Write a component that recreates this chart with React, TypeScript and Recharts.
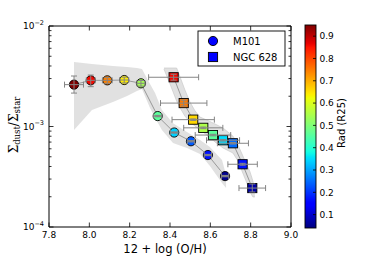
import React from 'react';
import { ComposedChart, XAxis, YAxis, Area, Line, Scatter, ErrorBar } from 'recharts';

// ---------- data ----------
const m101OH = [7.924, 8.007, 8.089, 8.173, 8.256, 8.339, 8.421, 8.504, 8.588, 8.673];
const m101Ratio = [2.61e-3, 2.88e-3, 2.88e-3, 2.9e-3, 2.69e-3, 1.27e-3, 8.71e-4, 7.13e-4, 5.2e-4, 3.21e-4];
const m101Rad = [0.95, 0.86, 0.745, 0.64, 0.54, 0.46, 0.34, 0.235, 0.17, 0.05];
const m101OHErr = [0.047, 0.022, 0.024, 0.022, 0.02, 0.02, 0.018, 0.018, 0.018, 0.018];
const m101RatioErrLo = [0.46e-3, 0.39e-3, 0.19e-3, 0.19e-3, 0.17e-3, 0.02e-3, 0.013e-3, 0.011e-3, 0.008e-3, 0.005e-3];
const m101RatioErrHi = [0.57e-3, 0.37e-3, 0.2e-3, 0.2e-3, 0.18e-3, 0.02e-3, 0.013e-3, 0.011e-3, 0.008e-3, 0.005e-3];

const ngcOH = [8.418, 8.468, 8.515, 8.565, 8.613, 8.663, 8.712, 8.76, 8.808];
const ngcRatio = [3.09e-3, 1.71e-3, 1.17e-3, 9.7e-4, 8.22e-4, 7.3e-4, 6.81e-4, 4.21e-4, 2.44e-4];
const ngcRad = [0.86, 0.75, 0.66, 0.55, 0.46, 0.35, 0.25, 0.17, 0.07];
const ngcOHErr = [0.124, 0.115, 0.105, 0.097, 0.088, 0.082, 0.077, 0.073, 0.066];
const ngcRatioErrLo = [0.2e-3, 0.11e-3, 0.02e-3, 0.018e-3, 0.015e-3, 0.013e-3, 0.012e-3, 0.009e-3, 0.021e-3];
const ngcRatioErrHi = [0.22e-3, 0.12e-3, 0.02e-3, 0.018e-3, 0.015e-3, 0.013e-3, 0.012e-3, 0.009e-3, 0.024e-3];

const m101BandOH = [7.924, 8.013, 8.117, 8.187, 8.236, 8.261, 8.301, 8.326, 8.36, 8.415, 8.484, 8.549, 8.598, 8.658, 8.678];
const m101BandLo = [9.23e-4, 1.46e-3, 1.75e-3, 2.01e-3, 2.25e-3, 2.36e-3, 1.53e-3, 1.22e-3, 9.23e-4, 6.85e-4, 6.11e-4, 5.32e-4, 4.05e-4, 2.74e-4, 2.44e-4];
const m101BandHi = [4.39e-3, 4.19e-3, 4.0e-3, 3.91e-3, 3.82e-3, 3.73e-3, 2.65e-3, 2.15e-3, 1.46e-3, 1.08e-3, 8.82e-4, 7.34e-4, 6.25e-4, 4.65e-4, 3.29e-4];

const ngcBandOH = [8.37, 8.38, 8.4, 8.433, 8.45, 8.474, 8.499, 8.524, 8.549, 8.583, 8.623, 8.663, 8.712, 8.737, 8.757, 8.777, 8.797, 8.811, 8.821];
const ngcBandHi = [3.82e-3, 3.82e-3, 3.82e-3, 3.82e-3, 3.11e-3, 2.31e-3, 1.75e-3, 1.43e-3, 1.24e-3, 1.16e-3, 1.06e-3, 9.66e-4, 8.03e-4, 6.54e-4, 5.33e-4, 4.33e-4, 3.53e-4, 2.87e-4, 2.33e-4];
const ngcBandLo = [3.73e-3, 3.33e-3, 2.65e-3, 1.79e-3, 1.53e-3, 1.27e-3, 1.11e-3, 1.01e-3, 9.23e-4, 8.22e-4, 7.02e-4, 6.11e-4, 5.45e-4, 4.54e-4, 3.61e-4, 2.87e-4, 2.23e-4, 1.99e-4, 1.99e-4];

const xTicks = [7.8, 8.0, 8.2, 8.4, 8.6, 8.8, 9.0];
const yTicks = [1e-4, 2e-4, 3e-4, 4e-4, 5e-4, 6e-4, 7e-4, 8e-4, 9e-4, 1e-3, 2e-3, 3e-3, 4e-3, 5e-3, 6e-3, 7e-3, 8e-3, 9e-3, 1e-2];
const cbTicks = [0.1, 0.2, 0.3, 0.4, 0.5, 0.6, 0.7, 0.8, 0.9];
const legendLabels = ['M101', 'NGC 628'];

const VMIN = 0.04;
const VMAX = 0.95;

// ---------- jet colormap ----------
type Seg = number[][];
const JR: Seg = [[0, 0], [0.35, 0], [0.66, 1], [0.89, 1], [1, 0.5]];
const JG: Seg = [[0, 0], [0.125, 0], [0.375, 1], [0.64, 1], [0.91, 0], [1, 0]];
const JB: Seg = [[0, 0.5], [0.11, 1], [0.34, 1], [0.65, 0], [1, 0]];
function seg(s: Seg, t: number) {
  for (let i = 1; i < s.length; i++) {
    if (t <= s[i][0]) {
      const [x0, y0] = s[i - 1];
      const [x1, y1] = s[i];
      return y0 + ((y1 - y0) * (t - x0)) / (x1 - x0);
    }
  }
  return s[s.length - 1][1];
}
function jetT(t: number) {
  const tt = Math.max(0, Math.min(1, t));
  const c = (f: Seg) => Math.round(255 * seg(f, tt));
  return `rgb(${c(JR)},${c(JG)},${c(JB)})`;
}
const jet = (v: number) => jetT((v - VMIN) / (VMAX - VMIN));

// ---------- tables ----------
const m101 = m101OH.map((x, i) => ({ x, y: m101Ratio[i], rad: m101Rad[i], xe: m101OHErr[i], ye: [m101RatioErrLo[i], m101RatioErrHi[i]] }));
const ngc = ngcOH.map((x, i) => ({ x, y: ngcRatio[i], rad: ngcRad[i], xe: ngcOHErr[i], ye: [ngcRatioErrLo[i], ngcRatioErrHi[i]] }));
const m101Band = m101BandOH.map((x, i) => ({ x, range: [m101BandLo[i], m101BandHi[i]] }));
const ngcBand = ngcBandOH.map((x, i) => ({ x, range: [ngcBandLo[i], ngcBandHi[i]] }));

const FONT = 'DejaVu Sans';
const isMajor = (v: number) => Math.abs(Math.log10(v) - Math.round(Math.log10(v))) < 1e-6;

const LeftTick = (p: any) => {
  const v = p.payload.value;
  const major = isMajor(v);
  return (
    <g>
      <line x1={p.x} x2={p.x + (major ? 4.5 : 2.5)} y1={p.y} y2={p.y} stroke="#000" strokeWidth={0.8} />
      {major && (
        <text x={p.x - 5} y={p.y + 3.3} textAnchor="end" fontSize={9} fontFamily={FONT} fill="#000">
          10<tspan dy={-4.5} fontSize={6.5}>{'\u2212' + Math.abs(Math.round(Math.log10(v)))}</tspan>
        </text>
      )}
    </g>
  );
};
const RightTick = (p: any) => {
  const major = isMajor(p.payload.value);
  return <line x1={p.x} x2={p.x - (major ? 4.5 : 2.5)} y1={p.y} y2={p.y} stroke="#000" strokeWidth={0.8} />;
};
const BottomTick = (p: any) => (
  <g>
    <line x1={p.x} x2={p.x} y1={p.y} y2={p.y - 4.5} stroke="#000" strokeWidth={0.8} />
    <text x={p.x} y={p.y + 10.7} textAnchor="middle" fontSize={9} fontFamily={FONT} fill="#000">
      {p.payload.value.toFixed(1)}
    </text>
  </g>
);
const TopTick = (p: any) => <line x1={p.x} x2={p.x} y1={p.y} y2={p.y + 4.5} stroke="#000" strokeWidth={0.8} />;

const CircleShape = (p: any) => (
  <circle cx={p.cx} cy={p.cy} r={4.6} fill={jet(p.payload.rad)} stroke="#000" strokeWidth={0.9} />
);
const SquareShape = (p: any) => (
  <rect x={p.cx - 4.6} y={p.cy - 4.6} width={9.2} height={9.2} fill={jet(p.payload.rad)} stroke="#000" strokeWidth={0.9} />
);
const NoShape = () => <g />;

// colorbar layout
const CB_X = 305, CB_Y = 25, CB_W = 11, CB_H = 203;
const cbY = (v: number) => CB_Y + CB_H - ((v - VMIN) / (VMAX - VMIN)) * CB_H;
const gradStops = Array.from({ length: 101 }, (_, i) => i / 100);

const ERR = '#858585';

export default function App() {
  return (
    <div style={{ position: 'absolute', left: 0, top: 0, width: 390, height: 260, background: '#fff' }}>
      <ComposedChart width={390} height={260} margin={{ top: 25, right: 98, bottom: 0, left: 0 }}>
        <XAxis dataKey="x" type="number" domain={[7.8, 9.0]} ticks={xTicks} allowDataOverflow height={33}
          axisLine={{ stroke: '#000', strokeWidth: 1 }} tickLine={false} tickSize={0} tickMargin={0} tick={BottomTick} interval={0} />
        <XAxis xAxisId="top" orientation="top" dataKey="x" type="number" domain={[7.8, 9.0]} ticks={xTicks} allowDataOverflow height={1}
          axisLine={{ stroke: '#000', strokeWidth: 1 }} tickLine={false} tickSize={0} tickMargin={0} tick={TopTick} interval={0} />
        <YAxis dataKey="y" type="number" scale="log" domain={[1e-4, 1e-2]} ticks={yTicks} allowDataOverflow width={49}
          axisLine={{ stroke: '#000', strokeWidth: 1 }} tickLine={false} tickSize={0} tickMargin={0} tick={LeftTick} interval={0} />
        <YAxis yAxisId="right" orientation="right" type="number" scale="log" domain={[1e-4, 1e-2]} ticks={yTicks} allowDataOverflow width={1}
          axisLine={{ stroke: '#000', strokeWidth: 1 }} tickLine={false} tickSize={0} tickMargin={0} tick={RightTick} interval={0} />

        <Area data={m101Band} dataKey="range" type="linear" fill="#dcdcdc" fillOpacity={0.85} stroke="none" isAnimationActive={false} />
        <Area data={ngcBand} dataKey="range" type="linear" fill="#dcdcdc" fillOpacity={0.85} stroke="#c4c4c4" strokeWidth={0.6} isAnimationActive={false} />
        <Line data={m101} dataKey="y" type="linear" stroke="#999" strokeWidth={1} dot={false} isAnimationActive={false} />
        <Line data={ngc} dataKey="y" type="linear" stroke="#999" strokeWidth={1} dot={false} isAnimationActive={false} />

        <Scatter data={m101} shape={CircleShape} isAnimationActive={false} />
        <Scatter data={ngc} shape={SquareShape} isAnimationActive={false} />
        <Scatter data={m101} shape={NoShape} isAnimationActive={false} zIndex={700}>
          <ErrorBar dataKey="xe" direction="x" stroke={ERR} strokeWidth={1} width={3} isAnimationActive={false} zIndex={700} />
          <ErrorBar dataKey="ye" direction="y" stroke={ERR} strokeWidth={1} width={3} isAnimationActive={false} zIndex={700} />
        </Scatter>
        <Scatter data={ngc} shape={NoShape} isAnimationActive={false} zIndex={700}>
          <ErrorBar dataKey="xe" direction="x" stroke={ERR} strokeWidth={1} width={3} isAnimationActive={false} zIndex={700} />
          <ErrorBar dataKey="ye" direction="y" stroke={ERR} strokeWidth={1} width={3} isAnimationActive={false} zIndex={700} />
        </Scatter>
      </ComposedChart>

      <svg style={{ position: 'absolute', left: 0, top: 0, pointerEvents: 'none' }} width={390} height={260}>
        <defs>
          <linearGradient id="jetGrad" x1="0" y1="1" x2="0" y2="0">
            {gradStops.map((t) => (
              <stop key={t} offset={`${t * 100}%`} stopColor={jetT(t)} />
            ))}
          </linearGradient>
        </defs>

        {/* y label */}
        <text transform="translate(17.5,125) rotate(-90)" textAnchor="middle" fontFamily="DejaVu Serif" fontSize={12} fill="#000">
          Σ<tspan fontSize={8.5} dy={2.5}>dust</tspan>
          <tspan fontSize={12} dy={-2.5}>/Σ</tspan>
          <tspan fontSize={8.5} dy={2.5}>star</tspan>
        </text>
        {/* x label */}
        <text x={165} y={253} textAnchor="middle" fontFamily={FONT} fontSize={11.5} fill="#000">12 + log (O/H)</text>

        {/* legend */}
        <rect x={198} y={31} width={87} height={35} fill="#fff" stroke="#000" strokeWidth={0.9} />
        <circle cx={213} cy={41} r={4.6} fill="#0000ff" stroke="#000" strokeWidth={0.9} />
        <text x={233} y={44.5} fontFamily={FONT} fontSize={10} fill="#000">{legendLabels[0]}</text>
        <rect x={208.4} y={52.4} width={9.2} height={9.2} fill="#0000ff" stroke="#000" strokeWidth={0.9} />
        <text x={233} y={60.5} fontFamily={FONT} fontSize={10} fill="#000">{legendLabels[1]}</text>

        {/* colorbar */}
        <rect x={CB_X} y={CB_Y} width={CB_W} height={CB_H} fill="url(#jetGrad)" stroke="#000" strokeWidth={0.9} />
        {cbTicks.map((v) => (
          <g key={v}>
            <line x1={CB_X + CB_W} x2={CB_X + CB_W - 3} y1={cbY(v)} y2={cbY(v)} stroke="#000" strokeWidth={0.8} />
            <text x={CB_X + CB_W + 3.5} y={cbY(v) + 3.3} fontFamily={FONT} fontSize={9} fill="#000">{v.toFixed(1)}</text>
          </g>
        ))}
        <text transform="translate(345,123) rotate(-90)" textAnchor="middle" fontFamily={FONT} fontSize={10} fill="#000">Rad (R25)</text>
      </svg>
    </div>
  );
}
